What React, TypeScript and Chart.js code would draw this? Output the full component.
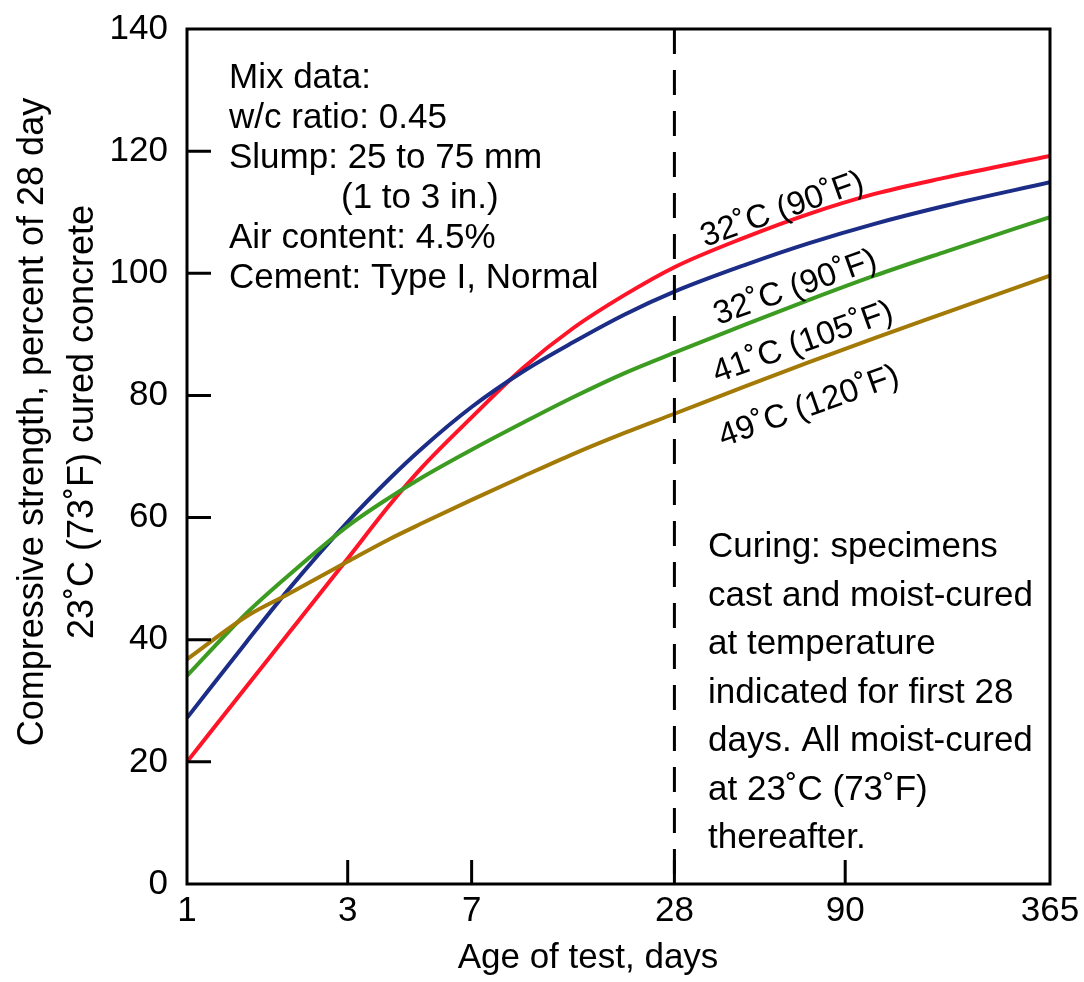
import React, { useEffect, useRef } from "react";
import { Chart, registerables } from "chart.js";

Chart.register(...registerables);

// ---- Data ----
const ageDays = [1, 1.5, 2, 3, 4, 5, 7, 10, 14, 20, 28, 45, 70, 110, 180, 365];

const redStrength = [20, 32.3, 41.0, 53.3, 62.1, 68.3, 76.4, 84.6, 91.0, 96.5, 101.0, 105.8, 109.7, 113.0, 115.7, 119.2];
const blueStrength = [27.2, 39.6, 48.2, 59.3, 66.4, 71.4, 78.1, 84.0, 88.7, 93.3, 97.0, 101.3, 104.9, 108.1, 111.1, 114.9];
const greenStrength = [34.1, 44.3, 50.5, 58.6, 63.3, 66.6, 71.1, 75.6, 79.7, 83.7, 87.0, 91.5, 95.6, 99.6, 103.6, 109.2];
const brownStrength = [36.8, 43.8, 47.5, 52.8, 56.5, 59.1, 62.9, 66.8, 70.4, 73.9, 77.0, 81.4, 85.4, 89.4, 93.6, 99.6];

const curveLabels = ["32˚C (90˚F)", "32˚C (90˚F)", "41˚C (105˚F)", "49˚C (120˚F)"];
const curveColors = ["#ff1428", "#1b2d86", "#3c9c22", "#a47a06"];

const xTickDays = [1, 3, 7, 28, 90, 365];
const yTickValues = [0, 20, 40, 60, 80, 100, 120, 140];
const innerTickDays = [3, 7, 28, 90];
const innerTickValues = [20, 40, 60, 80, 100, 120];
const dashedDay = 28;

const xTitle = "Age of test, days";
const yTitleLines = ["Compressive strength, percent of 28 day", "23˚C (73˚F) cured concrete"];

const mixDataLines = [
  "Mix data:",
  "w/c ratio: 0.45",
  "Slump: 25 to 75 mm",
  "(1 to 3 in.)",
  "Air content: 4.5%",
  "Cement: Type I, Normal",
];
const curingLines = [
  "Curing: specimens",
  "cast and moist-cured",
  "at temperature",
  "indicated for first 28",
  "days. All moist-cured",
  "at 23˚C (73˚F)",
  "thereafter.",
];

const FONT = '"Liberation Sans", Arial, Helvetica, sans-serif';

// ---- Annotation layout (text placement only) ----
const mixLayout = { left: 229, indentLeft: 341, indentLine: 3, firstBaseline: 88, lineStep: 40 };
const curingLayout = { left: 708, firstBaseline: 557, lineStep: 48.5 };
const labelAnchors = [
  { x: 705, y: 247 },
  { x: 718, y: 325 },
  { x: 717, y: 383 },
  { x: 723, y: 447 },
];
const labelAngleDeg = 19.5;

const decorPlugin = {
  id: "decor",
  afterDatasetsDraw(chart: any) {
    const { ctx, chartArea: a, scales } = chart;
    const xs = scales.x;
    const ys = scales.y;
    ctx.save();
    ctx.strokeStyle = "#000";
    ctx.fillStyle = "#000";
    ctx.lineWidth = 3;
    ctx.lineCap = "butt";

    // dashed vertical line at 28 days
    const xd = xs.getPixelForValue(dashedDay);
    ctx.setLineDash([25, 16]);
    ctx.beginPath();
    ctx.moveTo(xd, a.top);
    ctx.lineTo(xd, a.bottom);
    ctx.stroke();
    ctx.setLineDash([]);

    // inward tick marks
    ctx.beginPath();
    innerTickValues.forEach((v) => {
      const py = ys.getPixelForValue(v);
      ctx.moveTo(a.left, py);
      ctx.lineTo(a.left + 24, py);
    });
    innerTickDays.forEach((d) => {
      const px = xs.getPixelForValue(d);
      ctx.moveTo(px, a.bottom);
      ctx.lineTo(px, a.bottom - 24);
    });
    ctx.stroke();

    // frame
    ctx.strokeRect(a.left, a.top, a.right - a.left, a.bottom - a.top);

    // texts
    ctx.textBaseline = "alphabetic";
    ctx.font = `35px ${FONT}`;
    ctx.textAlign = "left";
    mixDataLines.forEach((t, i) => {
      const x = i === mixLayout.indentLine ? mixLayout.indentLeft : mixLayout.left;
      ctx.fillText(t, x, mixLayout.firstBaseline + i * mixLayout.lineStep);
    });
    curingLines.forEach((t, i) => {
      ctx.fillText(t, curingLayout.left, curingLayout.firstBaseline + i * curingLayout.lineStep);
    });

    // x title
    ctx.textAlign = "center";
    ctx.fillText(xTitle, 588, 968);

    // y title (two lines, rotated)
    ctx.font = `36px ${FONT}`;
    const yBaselines = [43, 93];
    yTitleLines.forEach((t, i) => {
      ctx.save();
      ctx.translate(yBaselines[i], 422);
      ctx.rotate(-Math.PI / 2);
      ctx.textAlign = "center";
      ctx.fillText(t, 0, 0);
      ctx.restore();
    });

    // curve labels
    ctx.font = `33px ${FONT}`;
    ctx.textAlign = "left";
    curveLabels.forEach((t, i) => {
      ctx.save();
      ctx.translate(labelAnchors[i].x, labelAnchors[i].y);
      ctx.rotate((-labelAngleDeg * Math.PI) / 180);
      ctx.fillText(t, 0, 0);
      ctx.restore();
    });

    ctx.restore();
  },
};

export default function App() {
  const canvasRef = useRef<HTMLCanvasElement | null>(null);

  useEffect(() => {
    if (!canvasRef.current) return;
    Chart.defaults.font.family = FONT;
    Chart.defaults.color = "#000";

    const mk = (data: number[], i: number) => ({
      label: curveLabels[i],
      data: ageDays.map((d, k) => ({ x: d, y: data[k] })),
      borderColor: curveColors[i],
      backgroundColor: curveColors[i],
      borderWidth: 4,
      pointRadius: 0,
      cubicInterpolationMode: "monotone" as const,
      fill: false,
    });

    const chart = new Chart(canvasRef.current, {
      type: "line",
      data: {
        datasets: [
          mk(brownStrength, 3),
          mk(greenStrength, 2),
          mk(blueStrength, 1),
          mk(redStrength, 0),
        ],
      },
      options: {
        responsive: false,
        animation: false,
        devicePixelRatio: 1,
        layout: { padding: { top: 29, right: 34, left: 0, bottom: 0 } },
        plugins: { legend: { display: false }, tooltip: { enabled: false }, title: { display: false } },
        scales: {
          x: {
            type: "logarithmic",
            min: 1,
            max: 365,
            grid: { display: false, drawTicks: false },
            border: { display: false },
            afterBuildTicks: (s: any) => {
              s.ticks = xTickDays.map((v) => ({ value: v }));
            },
            afterFit: (s: any) => {
              s.height = 98;
              s.paddingLeft = 0;
              s.paddingRight = 0;
            },
            ticks: {
              autoSkip: false,
              maxRotation: 0,
              minRotation: 0,
              padding: 6,
              font: { size: 35, family: FONT },
              color: "#000",
              callback: (v: any) => String(v),
            },
          },
          y: {
            type: "linear",
            min: 0,
            max: 140,
            grid: { display: false, drawTicks: false },
            border: { display: false },
            afterBuildTicks: (s: any) => {
              s.ticks = yTickValues.map((v) => ({ value: v }));
            },
            afterFit: (s: any) => {
              s.width = 187;
              s.paddingTop = 0;
              s.paddingBottom = 0;
            },
            ticks: {
              padding: 19,
              font: { size: 35, family: FONT },
              color: "#000",
              callback: (v: any) => String(v),
            },
          },
        },
      },
      plugins: [decorPlugin],
    });
    return () => chart.destroy();
  }, []);

  return (
    <div style={{ position: "absolute", left: 0, top: 0, width: 1084, height: 982, background: "#fff" }}>
      <canvas ref={canvasRef} width={1084} height={982} style={{ width: 1084, height: 982, display: "block" }} />
    </div>
  );
}
